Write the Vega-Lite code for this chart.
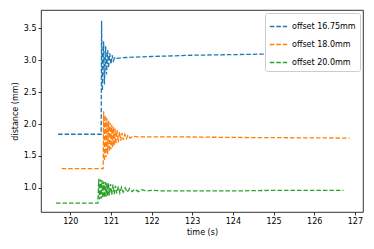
{
  "$schema": "https://vega.github.io/schema/vega-lite/v6.json",
  "autosize": "none",
  "width": 322,
  "height": 202,
  "padding": {"left": 41, "top": 10, "right": 11, "bottom": 37},
  "background": "white",
  "config": {
    "font": "DejaVu Sans",
    "view": {"stroke": "black", "strokeWidth": 0.8},
    "axis": {
      "grid": false,
      "domain": false,
      "tickColor": "black",
      "tickSize": 3,
      "tickWidth": 0.8,
      "labelFontSize": 8,
      "labelColor": "black",
      "titleFontSize": 8,
      "titleFontWeight": "normal",
      "titleColor": "black",
      "labelPadding": 2
    }
  },
  "data": {
    "values": [
      {"s": "offset 16.75mm", "t": 119.70, "d": 1.84},
      {"s": "offset 16.75mm", "t": 120.76, "d": 1.84},
      {"s": "offset 16.75mm", "t": 120.77, "d": 3.62},
      {"s": "offset 16.75mm", "t": 120.79, "d": 2.52},
      {"s": "offset 16.75mm", "t": 120.82, "d": 3.30},
      {"s": "offset 16.75mm", "t": 120.84, "d": 2.62},
      {"s": "offset 16.75mm", "t": 120.87, "d": 3.22},
      {"s": "offset 16.75mm", "t": 120.89, "d": 2.78},
      {"s": "offset 16.75mm", "t": 120.92, "d": 3.16},
      {"s": "offset 16.75mm", "t": 120.94, "d": 2.88},
      {"s": "offset 16.75mm", "t": 120.97, "d": 3.11},
      {"s": "offset 16.75mm", "t": 121.00, "d": 2.94},
      {"s": "offset 16.75mm", "t": 121.03, "d": 3.08},
      {"s": "offset 16.75mm", "t": 121.06, "d": 2.99},
      {"s": "offset 16.75mm", "t": 121.10, "d": 3.05},
      {"s": "offset 16.75mm", "t": 121.15, "d": 3.03},
      {"s": "offset 16.75mm", "t": 121.25, "d": 3.04},
      {"s": "offset 16.75mm", "t": 121.60, "d": 3.05},
      {"s": "offset 16.75mm", "t": 122.00, "d": 3.06},
      {"s": "offset 16.75mm", "t": 123.00, "d": 3.08},
      {"s": "offset 16.75mm", "t": 124.00, "d": 3.09},
      {"s": "offset 16.75mm", "t": 125.00, "d": 3.10},
      {"s": "offset 16.75mm", "t": 126.00, "d": 3.10},
      {"s": "offset 16.75mm", "t": 126.81, "d": 3.11},

      {"s": "offset 18.0mm", "t": 119.79, "d": 1.30},
      {"s": "offset 18.0mm", "t": 120.81, "d": 1.30},
      {"s": "offset 18.0mm", "t": 120.82, "d": 2.20},
      {"s": "offset 18.0mm", "t": 120.84, "d": 1.42},
      {"s": "offset 18.0mm", "t": 120.86, "d": 2.14},
      {"s": "offset 18.0mm", "t": 120.88, "d": 1.48},
      {"s": "offset 18.0mm", "t": 120.90, "d": 2.10},
      {"s": "offset 18.0mm", "t": 120.92, "d": 1.53},
      {"s": "offset 18.0mm", "t": 120.94, "d": 2.05},
      {"s": "offset 18.0mm", "t": 120.96, "d": 1.57},
      {"s": "offset 18.0mm", "t": 120.98, "d": 2.02},
      {"s": "offset 18.0mm", "t": 121.00, "d": 1.60},
      {"s": "offset 18.0mm", "t": 121.02, "d": 1.99},
      {"s": "offset 18.0mm", "t": 121.04, "d": 1.63},
      {"s": "offset 18.0mm", "t": 121.06, "d": 1.96},
      {"s": "offset 18.0mm", "t": 121.08, "d": 1.66},
      {"s": "offset 18.0mm", "t": 121.10, "d": 1.93},
      {"s": "offset 18.0mm", "t": 121.12, "d": 1.69},
      {"s": "offset 18.0mm", "t": 121.15, "d": 1.91},
      {"s": "offset 18.0mm", "t": 121.18, "d": 1.71},
      {"s": "offset 18.0mm", "t": 121.21, "d": 1.88},
      {"s": "offset 18.0mm", "t": 121.24, "d": 1.74},
      {"s": "offset 18.0mm", "t": 121.27, "d": 1.86},
      {"s": "offset 18.0mm", "t": 121.30, "d": 1.75},
      {"s": "offset 18.0mm", "t": 121.34, "d": 1.84},
      {"s": "offset 18.0mm", "t": 121.38, "d": 1.77},
      {"s": "offset 18.0mm", "t": 121.42, "d": 1.83},
      {"s": "offset 18.0mm", "t": 121.47, "d": 1.78},
      {"s": "offset 18.0mm", "t": 121.54, "d": 1.81},
      {"s": "offset 18.0mm", "t": 121.65, "d": 1.80},
      {"s": "offset 18.0mm", "t": 122.50, "d": 1.80},
      {"s": "offset 18.0mm", "t": 124.00, "d": 1.79},
      {"s": "offset 18.0mm", "t": 126.87, "d": 1.78},

      {"s": "offset 20.0mm", "t": 119.65, "d": 0.76},
      {"s": "offset 20.0mm", "t": 120.68, "d": 0.76},
      {"s": "offset 20.0mm", "t": 120.70, "d": 1.14},
      {"s": "offset 20.0mm", "t": 120.72, "d": 0.82},
      {"s": "offset 20.0mm", "t": 120.74, "d": 1.13},
      {"s": "offset 20.0mm", "t": 120.76, "d": 0.83},
      {"s": "offset 20.0mm", "t": 120.78, "d": 1.12},
      {"s": "offset 20.0mm", "t": 120.80, "d": 0.84},
      {"s": "offset 20.0mm", "t": 120.82, "d": 1.10},
      {"s": "offset 20.0mm", "t": 120.84, "d": 0.85},
      {"s": "offset 20.0mm", "t": 120.86, "d": 1.09},
      {"s": "offset 20.0mm", "t": 120.88, "d": 0.86},
      {"s": "offset 20.0mm", "t": 120.90, "d": 1.08},
      {"s": "offset 20.0mm", "t": 120.92, "d": 0.87},
      {"s": "offset 20.0mm", "t": 120.94, "d": 1.07},
      {"s": "offset 20.0mm", "t": 120.96, "d": 0.88},
      {"s": "offset 20.0mm", "t": 120.99, "d": 1.06},
      {"s": "offset 20.0mm", "t": 121.02, "d": 0.89},
      {"s": "offset 20.0mm", "t": 121.05, "d": 1.05},
      {"s": "offset 20.0mm", "t": 121.08, "d": 0.90},
      {"s": "offset 20.0mm", "t": 121.11, "d": 1.03},
      {"s": "offset 20.0mm", "t": 121.14, "d": 0.91},
      {"s": "offset 20.0mm", "t": 121.18, "d": 1.02},
      {"s": "offset 20.0mm", "t": 121.22, "d": 0.92},
      {"s": "offset 20.0mm", "t": 121.26, "d": 1.01},
      {"s": "offset 20.0mm", "t": 121.30, "d": 0.93},
      {"s": "offset 20.0mm", "t": 121.35, "d": 1.00},
      {"s": "offset 20.0mm", "t": 121.40, "d": 0.93},
      {"s": "offset 20.0mm", "t": 121.46, "d": 0.99},
      {"s": "offset 20.0mm", "t": 121.52, "d": 0.94},
      {"s": "offset 20.0mm", "t": 121.59, "d": 0.98},
      {"s": "offset 20.0mm", "t": 121.67, "d": 0.94},
      {"s": "offset 20.0mm", "t": 121.76, "d": 0.97},
      {"s": "offset 20.0mm", "t": 121.86, "d": 0.95},
      {"s": "offset 20.0mm", "t": 122.00, "d": 0.96},
      {"s": "offset 20.0mm", "t": 122.30, "d": 0.95},
      {"s": "offset 20.0mm", "t": 123.00, "d": 0.95},
      {"s": "offset 20.0mm", "t": 124.00, "d": 0.95},
      {"s": "offset 20.0mm", "t": 125.00, "d": 0.96},
      {"s": "offset 20.0mm", "t": 126.72, "d": 0.96}
    ]
  },
  "mark": {"type": "line", "strokeWidth": 1.3, "strokeDash": [4.5, 2], "clip": true},
  "encoding": {
    "x": {
      "field": "t", "type": "quantitative",
      "scale": {"domain": [119.28, 127.2], "nice": false, "zero": false},
      "axis": {"values": [120, 121, 122, 123, 124, 125, 126, 127], "title": "time (s)", "titlePadding": 3}
    },
    "y": {
      "field": "d", "type": "quantitative",
      "scale": {"domain": [0.62, 3.79], "nice": false, "zero": false},
      "axis": {"values": [1.0, 1.5, 2.0, 2.5, 3.0, 3.5], "format": ".1f", "title": "distance (mm)", "titlePadding": 4}
    },
    "color": {
      "field": "s", "type": "nominal",
      "scale": {"domain": ["offset 16.75mm", "offset 18.0mm", "offset 20.0mm"], "range": ["#1f77b4", "#ff7f0e", "#2ca02c"]},
      "legend": {
        "title": null,
        "orient": "top-right",
        "offset": 3,
        "symbolType": "stroke",
        "symbolDash": [4.5, 2],
        "symbolStrokeWidth": 1.3,
        "symbolSize": 300,
        "labelFontSize": 8,
        "labelColor": "black",
        "rowPadding": 4,
        "padding": 4,
        "strokeColor": "#cccccc",
        "fillColor": "white",
        "cornerRadius": 2
      }
    },
    "order": {"field": "t", "type": "quantitative"}
  }
}
